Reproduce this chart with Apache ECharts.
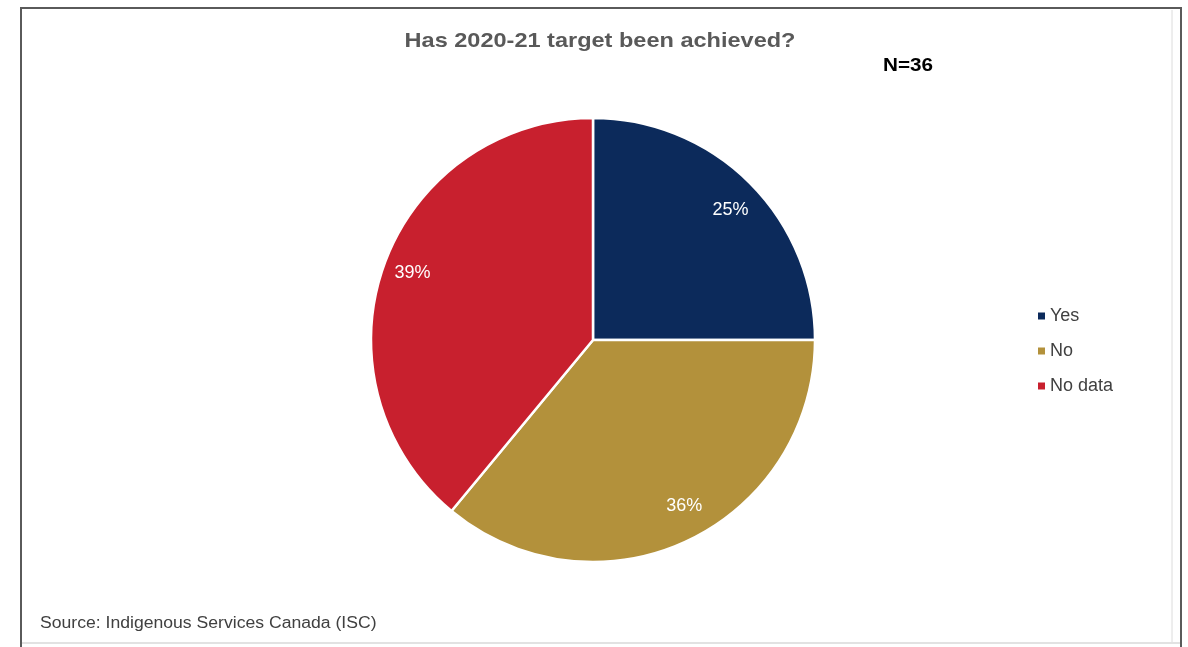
<!DOCTYPE html>
<html>
<head>
<meta charset="utf-8">
<script src="https://cdn.jsdelivr.net/npm/echarts@6/dist/echarts.min.js"></script>
<style>
html,body{margin:0;padding:0;background:#fff;}
#chart{width:1188px;height:647px;}
</style>
</head>
<body>
<div id="chart"></div>
<script>
const categories = ['Yes', 'No', 'No data'];
const values = [25, 36, 39];
const colors = ['#0c2a5b', '#b3913b', '#c8202e'];
const titleText = 'Has 2020-21 target been achieved?';
const nText = 'N=36';
const sourceText = 'Source: Indigenous Services Canada (ISC)';

const FONT = '"Liberation Sans", Arial, sans-serif';
const labelOffsets = [[1, 7], [9, -9], [1, -2]];
const chart = echarts.init(document.getElementById('chart'), null, {renderer: 'canvas'});

const pieData = categories.map((c, i) => ({name: c, value: values[i], itemStyle: {color: colors[i]}}));
const labelData = categories.map((c, i) => ({name: c, value: values[i], label: {offset: labelOffsets[i]}}));

chart.setOption({
  animation: false,
  backgroundColor: '#ffffff',
  legend: {
    orient: 'vertical',
    left: 1036,
    top: 306,
    padding: 0,
    itemWidth: 9,
    itemHeight: 9,
    itemGap: 15,
    icon: 'rect',
    data: categories,
    textStyle: {fontFamily: FONT, fontSize: 18, color: '#404040', lineHeight: 20, padding: [0, 0, 0, -1]}
  },
  graphic: [
    {type: 'rect', shape: {x: 21, y: 8, width: 1160, height: 660}, style: {fill: 'none', stroke: '#5a5a5a', lineWidth: 2}, z: 100},
    {type: 'line', shape: {x1: 22, y1: 643, x2: 1180, y2: 643}, style: {stroke: '#d8d8d8', lineWidth: 1.5}, z: 100},
    {type: 'line', shape: {x1: 1172, y1: 10, x2: 1172, y2: 642}, style: {stroke: '#dcdcdc', lineWidth: 1}, z: 100},
    {type: 'text', x: 600, y: 41, scaleX: 1.12, originX: 0, originY: 0, style: {text: titleText, font: 'bold 21px ' + FONT, fill: '#595959', align: 'center', verticalAlign: 'middle'}},
    {type: 'text', x: 883, y: 66, scaleX: 1.15, originX: 0, originY: 0, style: {text: nText, font: 'bold 18px ' + FONT, fill: '#000000', align: 'left', verticalAlign: 'middle'}},
    {type: 'text', x: 40, y: 624, scaleX: 1.1, originX: 0, originY: 0, style: {text: sourceText, font: '16px ' + FONT, fill: '#404040', align: 'left', verticalAlign: 'middle'}}
  ],
  series: [
    {
      type: 'pie',
      center: [593, 340],
      radius: [0, 222],
      startAngle: 90,
      clockwise: true,
      data: pieData,
      itemStyle: {borderColor: '#ffffff', borderWidth: 2.5},
      label: {show: false},
      labelLine: {show: false},
      emphasis: {disabled: true}
    },
    {
      type: 'pie',
      center: [593, 340],
      radius: [158, 222],
      startAngle: 90,
      clockwise: true,
      silent: true,
      legendHoverLink: false,
      data: labelData,
      itemStyle: {color: 'rgba(0,0,0,0)', borderWidth: 0},
      label: {
        show: true,
        position: 'inside',
        formatter: p => Math.round(p.percent) + '%',
        fontFamily: FONT,
        fontSize: 18,
        color: '#ffffff'
      },
      labelLine: {show: false},
      emphasis: {disabled: true}
    }
  ]
});
</script>
</body>
</html>
